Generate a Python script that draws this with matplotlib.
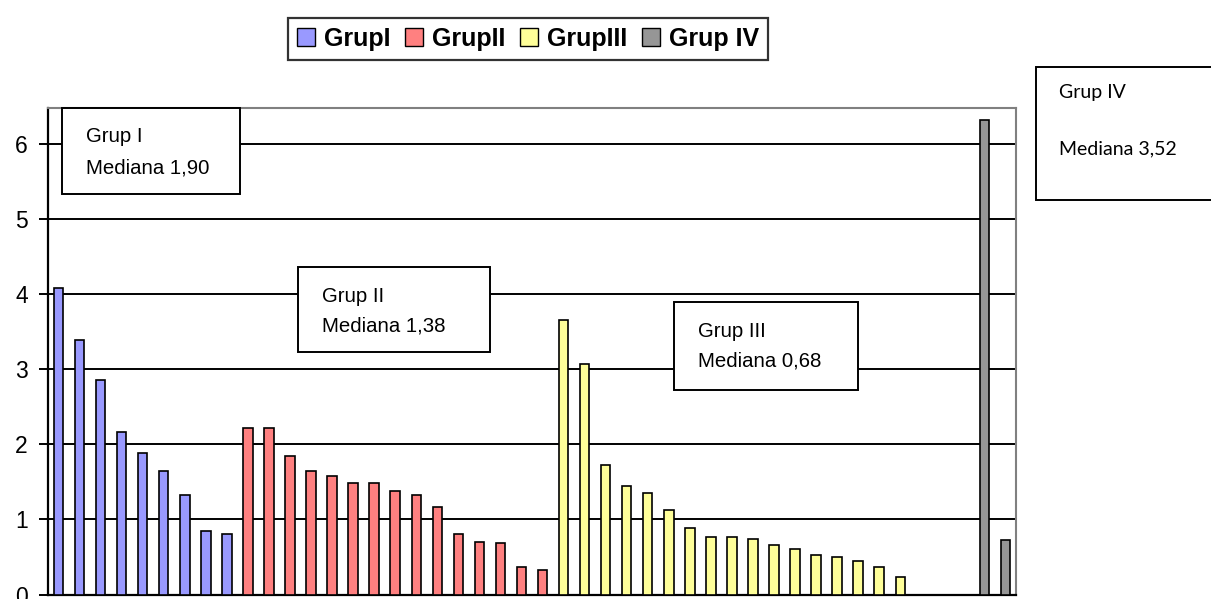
import matplotlib
matplotlib.use("Agg")
import matplotlib.pyplot as plt
from matplotlib.patches import Rectangle, Patch
import numpy as np

# ---- data ----
group_names = ["GrupI", "GrupII", "GrupIII", "Grup IV"]
grup1 = [4.08, 3.39, 2.86, 2.16, 1.89, 1.64, 1.32, 0.84, 0.81]
grup2 = [2.22, 2.22, 1.85, 1.64, 1.58, 1.48, 1.48, 1.38, 1.32, 1.16, 0.81, 0.70, 0.68, 0.36, 0.33]
grup3 = [3.66, 3.07, 1.72, 1.45, 1.35, 1.13, 0.89, 0.76, 0.76, 0.74, 0.66, 0.60, 0.52, 0.50, 0.44, 0.36, 0.23]
grup4 = [6.32, 0.72]
empty_slots_before_g4 = 3
yticks = [0, 1, 2, 3, 4, 5, 6]
box_texts = [("Grup I", "Mediana 1,90"), ("Grup II", "Mediana 1,38"),
             ("Grup III", "Mediana 0,68"), ("Grup IV", "Mediana 3,52")]
colors = ["#9999FF", "#FF8080", "#FFFF99", "#969696"]

W, H = 1211, 599
fig = plt.figure(figsize=(W / 100, H / 100), dpi=100)
plt.rcParams['font.family'] = ['Liberation Sans', 'DejaVu Sans']

def fx(x):
    return x / W

def fy(y):
    return 1 - y / H

ax_left, ax_right, ax_top, ax_bot = 48, 1016, 107.7, 594.5
ax = fig.add_axes([fx(ax_left), fy(ax_bot), fx(ax_right - ax_left), (ax_bot - ax_top) / H])

series = [grup1, grup2, grup3, grup4]
pos = 0
for i, vals in enumerate(series):
    if i == 3:
        pos += empty_slots_before_g4
    xs = np.arange(pos, pos + len(vals))
    ax.bar(xs, vals, width=0.45, color=colors[i], edgecolor="black", linewidth=1.2, zorder=3)
    pos += len(vals)

ax.set_xlim(-0.5, pos - 0.5)
ax.set_ylim(0, 6.49)
ax.set_yticks(yticks)
ax.set_yticklabels([str(t) for t in yticks], fontsize=16.5)
ax.set_xticks([])
ax.tick_params(axis='y', direction='out', length=6.5, width=1.4, pad=8, colors='black')
ax.yaxis.grid(True, color='black', linewidth=1.4, zorder=1)
ax.set_axisbelow(True)
for s in ['left', 'bottom']:
    ax.spines[s].set_color('black')
    ax.spines[s].set_linewidth(1.6)
for s in ['top', 'right']:
    ax.spines[s].set_color('#808080')
    ax.spines[s].set_linewidth(1.5)

# ---- annotation boxes (pixel layout) ----
boxes = [
    (62, 108, 240, 194, 86, 142, 174, 'Liberation Sans', 14.7),
    (298, 266.7, 490, 351.7, 321.7, 301.7, 331, 'Liberation Sans', 14.7),
    (674, 302, 858, 390, 698, 336.7, 366.7, 'Liberation Sans', 14.7),
    (1036, 66.7, 1214, 200, 1059, 97.7, 154, 'Lato', 14.0),
]
for (x0, y0, x1, y1, tx, b1, b2, fam, fs), (t1, t2) in zip(boxes, box_texts):
    fig.patches.append(Rectangle((fx(x0), fy(y1)), fx(x1 - x0), (y1 - y0) / H,
                                 transform=fig.transFigure, facecolor='white',
                                 edgecolor='black', linewidth=1.4, zorder=5))
    fig.text(fx(tx), fy(b1), t1, fontsize=fs, family=[fam, 'DejaVu Sans'], va='baseline', ha='left', zorder=6)
    fig.text(fx(tx), fy(b2), t2, fontsize=fs, family=[fam, 'DejaVu Sans'], va='baseline', ha='left', zorder=6)

# ---- legend ----
handles = [Patch(facecolor=c, edgecolor='black', linewidth=1.0) for c in colors]
leg = fig.legend(handles, group_names, loc='center', bbox_to_anchor=(fx(528), fy(39)),
                 ncol=4, frameon=True, fancybox=False, shadow=False,
                 prop={'family': 'Liberation Sans', 'weight': 'bold', 'size': 18},
                 handlelength=0.72, handleheight=0.72, handletextpad=0.35,
                 columnspacing=0.6, borderpad=0.35, borderaxespad=0)
leg.get_frame().set_edgecolor('black')
leg.get_frame().set_linewidth(1.6)

fig.savefig("out.png", dpi=100)
